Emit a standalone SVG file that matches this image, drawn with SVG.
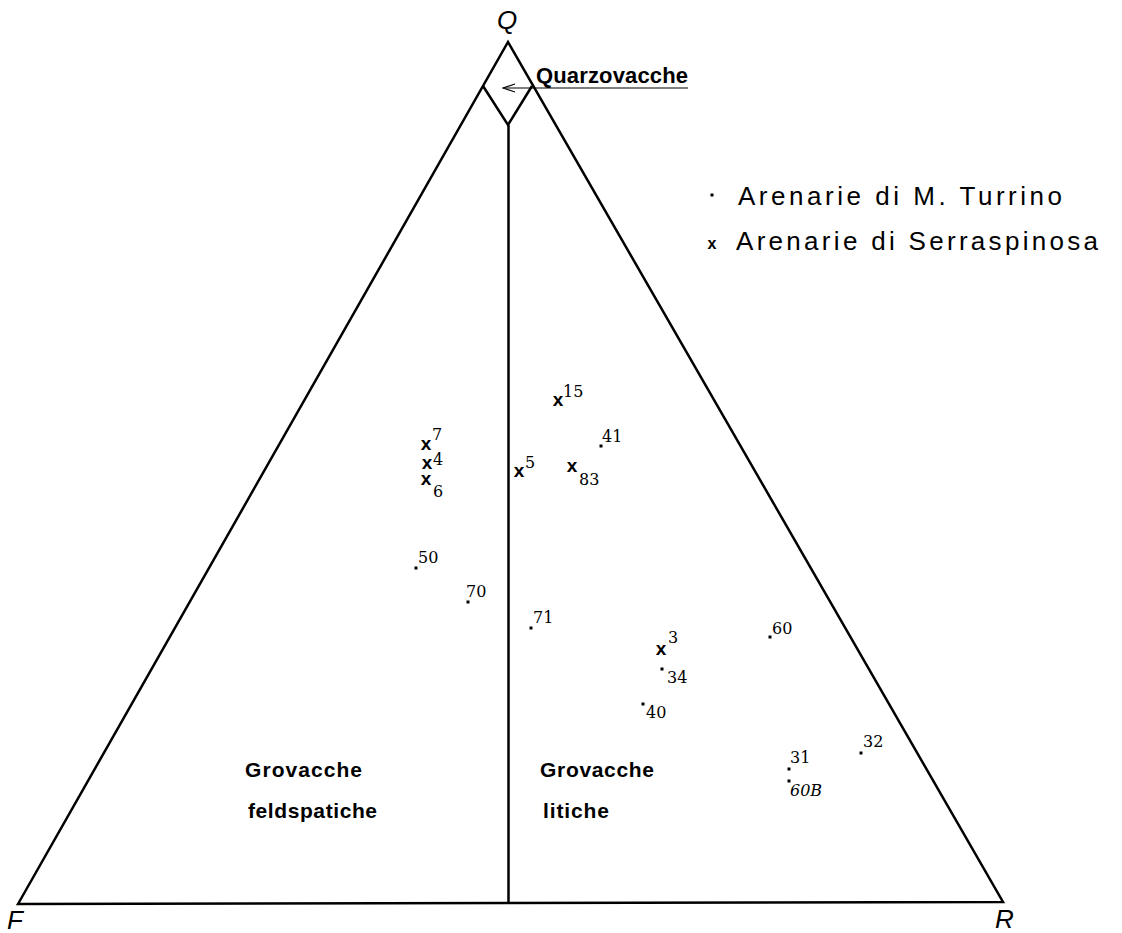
<svg xmlns="http://www.w3.org/2000/svg" width="1122" height="933" viewBox="0 0 1122 933">
<style>
.ln{fill:none;stroke:#000;stroke-width:2.5;stroke-linejoin:miter}
.thin{fill:none;stroke:#000;stroke-width:1.2}
.vx{font-family:"Liberation Sans",Arial,sans-serif;font-style:italic;font-size:26px;fill:#000}
.num{font-family:"DejaVu Serif","Liberation Serif",serif;font-size:16px;fill:#000}
.mk{font-family:"Liberation Sans",Arial,sans-serif;font-weight:bold;font-size:19px;fill:#000;text-anchor:middle}
.lab{font-family:"Liberation Sans",Arial,sans-serif;font-weight:bold;font-size:21px;fill:#000}
.leg{font-family:"Liberation Sans",Arial,sans-serif;font-size:26px;fill:#000}
.dot{fill:#000}
</style>
<defs>
<marker id="open" viewBox="0 0 14 10" refX="13" refY="5" markerWidth="14" markerHeight="10" markerUnits="userSpaceOnUse" orient="auto">
<path d="M1,1 L13,5 L1,9" fill="none" stroke="#000" stroke-width="1.2"/>
</marker>
</defs>
<g id="frame">
<path class="ln" d="M18,904 L508,42 L1003,902 Z"/>
<path class="ln" d="M483,86 L508,125 L532,86"/>
<line class="ln" x1="508.5" y1="125" x2="508.5" y2="903"/>
<text class="vx" x="497" y="29">Q</text>
<text class="vx" x="7" y="929">F</text>
<text class="vx" x="995" y="928">R</text>
</g>
<g id="connectors">
<line class="thin" x1="688" y1="88" x2="503" y2="88" marker-end="url(#open)"/>
</g>
<g id="quarzovacche"><text class="lab" x="536" y="83" style="font-size:22px" textLength="152" lengthAdjust="spacing">Quarzovacche</text></g>
<g id="grovacche-feldspatiche">
<text class="lab" x="245" y="777" textLength="117" lengthAdjust="spacing">Grovacche</text>
<text class="lab" x="248" y="818" textLength="129" lengthAdjust="spacing">feldspatiche</text>
</g>
<g id="grovacche-litiche">
<text class="lab" x="540" y="777" textLength="114" lengthAdjust="spacing">Grovacche</text>
<text class="lab" x="543" y="818" textLength="66" lengthAdjust="spacing">litiche</text>
</g>
<g id="legend">
<rect class="dot" x="710.5" y="193.5" width="3" height="3"/>
<text class="leg" x="738" y="205" textLength="324" lengthAdjust="spacing">Arenarie  di  M.  Turrino</text>
<text class="mk" x="712" y="249" style="font-size:16px">x</text>
<text class="leg" x="736" y="250" textLength="362" lengthAdjust="spacing">Arenarie  di  Serraspinosa</text>
</g>
<g id="serraspinosa">
<text class="mk" x="558" y="406">x</text><text class="num" x="563" y="397">15</text>
<text class="mk" x="426" y="450">x</text><text class="num" x="432" y="440">7</text>
<text class="mk" x="427" y="469">x</text><text class="num" x="433" y="465">4</text>
<text class="mk" x="426" y="485">x</text><text class="num" x="433" y="497">6</text>
<text class="mk" x="519" y="477">x</text><text class="num" x="525" y="468">5</text>
<text class="mk" x="572" y="472">x</text><text class="num" x="579" y="485">83</text>
<text class="mk" x="661" y="655">x</text><text class="num" x="668" y="643">3</text>
</g>
<g id="turrino">
<rect class="dot" x="599.5" y="444.5" width="3" height="3"/><text class="num" x="602" y="442">41</text>
<rect class="dot" x="414.5" y="566.5" width="3" height="3"/><text class="num" x="418" y="563">50</text>
<rect class="dot" x="466.5" y="600.5" width="3" height="3"/><text class="num" x="466" y="597">70</text>
<rect class="dot" x="529.5" y="626.5" width="3" height="3"/><text class="num" x="533" y="623">71</text>
<rect class="dot" x="660.5" y="667.5" width="3" height="3"/><text class="num" x="667" y="683">34</text>
<rect class="dot" x="641.5" y="702.5" width="3" height="3"/><text class="num" x="646" y="718">40</text>
<rect class="dot" x="768.5" y="635.5" width="3" height="3"/><text class="num" x="772" y="634">60</text>
<rect class="dot" x="859.5" y="751.5" width="3" height="3"/><text class="num" x="863" y="747">32</text>
<rect class="dot" x="787.5" y="767.5" width="3" height="3"/><text class="num" x="790" y="763">31</text>
<rect class="dot" x="787.5" y="779.5" width="3" height="3"/><text class="num" x="790" y="796" style="font-style:italic">60B</text>
</g>
</svg>
